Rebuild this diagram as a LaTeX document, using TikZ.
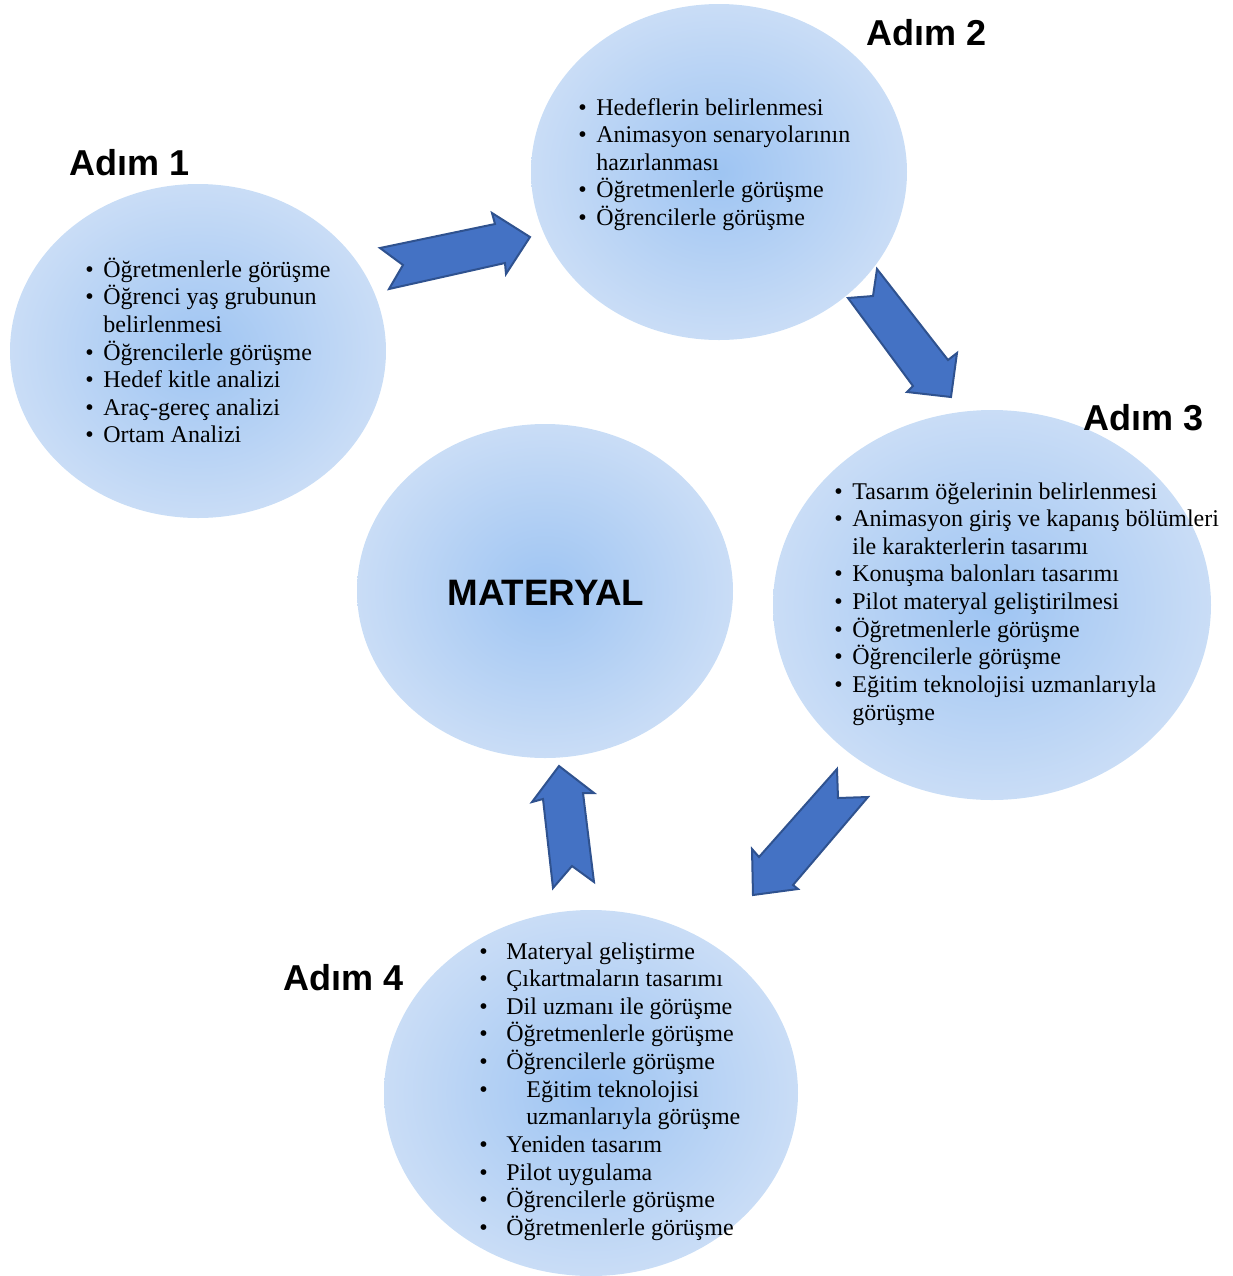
\documentclass[tikz,border=0pt]{standalone}
\usepackage{fontspec}
\setmainfont{Liberation Serif}
\newfontfamily\headfont{Liberation Sans}
\usetikzlibrary{shapes.geometric}
\definecolor{arrowfill}{HTML}{4472C4}
\definecolor{arrowline}{HTML}{2F528F}
\definecolor{bubin}{rgb}{0.62,0.77,0.95}
\definecolor{bubout}{rgb}{0.79,0.866,0.965}
\newcommand{\bl}{\makebox[9pt][l]{•}}
\newcommand{\blw}{\makebox[13.5pt][l]{•}}
\tikzset{
  bubble/.style={ellipse, inner sep=0pt, shading=radial, inner color=bubin, outer color=bubout},
  blockarrow/.style={fill=arrowfill, draw=arrowline, line width=1pt, line join=miter},
  steptitle/.style={anchor=base west, inner sep=0pt, font=\headfont\bfseries\fontsize{18}{21}\selectfont},
  itemlist/.style={anchor=base west, inner sep=0pt, font=\fontsize{12}{13.8}\selectfont}
}
\begin{document}
\begin{tikzpicture}[x=0.5pt,y=-0.5pt]
\useasboundingbox (0,0) rectangle (1233,1276);
% bubbles
\node[bubble, minimum width=188pt, minimum height=167pt] (s1) at (198,351) {};
\node[bubble, minimum width=188pt, minimum height=168pt] (s2) at (719,172) {};
\node[bubble, minimum width=219pt, minimum height=195pt] (s3) at (992,605) {};
\node[bubble, minimum width=188pt, minimum height=167pt] (mat) at (545,591) {};
\node[bubble, minimum width=207pt, minimum height=183pt] (s4) at (591,1093) {};
% block arrows
\draw[blockarrow] (380,248) -- (403,265) -- (389,289) -- (505,263) -- (506,274) -- (530,237) -- (492,213) -- (495,224) -- cycle;
\draw[blockarrow] (877,269) -- (873,296) -- (848,298) -- (913,386) -- (907,392) -- (951,397) -- (957,353) -- (948,360) -- cycle;
\draw[blockarrow] (837,769) -- (838,798) -- (868,797) -- (793,885) -- (798,889) -- (753,895) -- (752,849) -- (759,857) -- cycle;
\draw[blockarrow] (553,888) -- (572,866) -- (594,882) -- (583,793) -- (594,793) -- (559,766) -- (532,802) -- (543,799) -- cycle;
% titles
\node[steptitle] (t1) at (69,175) {Adım 1};
\node[steptitle] (t2) at (866,45) {Adım 2};
\node[steptitle] (t3) at (1083,430) {Adım 3};
\node[steptitle] (t4) at (283,990) {Adım 4};
\node[steptitle, font=\headfont\bfseries\fontsize{18.4}{21}\selectfont] (mt) at (447,605) {MATERYAL};
% lists
\node[itemlist] (l1) at (85,277) {\begin{tabular}[t]{@{}l@{}l@{}}
\bl & Öğretmenlerle görüşme\\
\bl & Öğrenci yaş grubunun\\
 & belirlenmesi\\
\bl & Öğrencilerle görüşme\\
\bl & Hedef kitle analizi\\
\bl & Araç-gereç analizi\\
\bl & Ortam Analizi
\end{tabular}};
\node[itemlist] (l2) at (578,115) {\begin{tabular}[t]{@{}l@{}l@{}}
\bl & Hedeflerin belirlenmesi\\
\bl & Animasyon senaryolarının\\
 & hazırlanması\\
\bl & Öğretmenlerle görüşme\\
\bl & Öğrencilerle görüşme
\end{tabular}};
\node[itemlist] (l3) at (834,499) {\begin{tabular}[t]{@{}l@{}l@{}}
\bl & Tasarım öğelerinin belirlenmesi\\
\bl & Animasyon giriş ve kapanış bölümleri\\
 & ile karakterlerin tasarımı\\
\bl & Konuşma balonları tasarımı\\
\bl & Pilot materyal geliştirilmesi\\
\bl & Öğretmenlerle görüşme\\
\bl & Öğrencilerle görüşme\\
\bl & Eğitim teknolojisi uzmanlarıyla\\
 & görüşme
\end{tabular}};
\node[itemlist] (l4) at (479,959) {\begin{tabular}[t]{@{}l@{}l@{}}
\blw & Materyal geliştirme\\
\blw & Çıkartmaların tasarımı\\
\blw & Dil uzmanı ile görüşme\\
\blw & Öğretmenlerle görüşme\\
\blw & Öğrencilerle görüşme\\
\blw & \hspace*{10pt}Eğitim teknolojisi\\
 & \hspace*{10pt}uzmanlarıyla görüşme\\
\blw & Yeniden tasarım\\
\blw & Pilot uygulama\\
\blw & Öğrencilerle görüşme\\
\blw & Öğretmenlerle görüşme
\end{tabular}};
\end{tikzpicture}
\end{document}
